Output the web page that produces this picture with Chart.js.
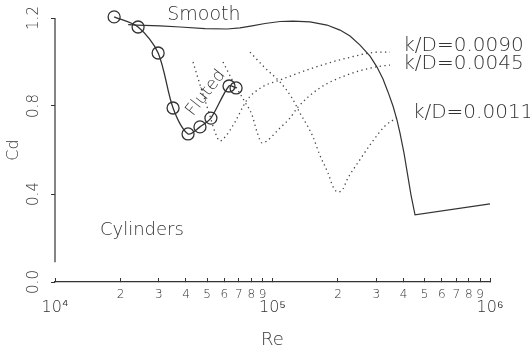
<!DOCTYPE html>
<html>
<head>
<meta charset="utf-8">
<script src="https://cdn.jsdelivr.net/npm/chart.js@4.4.1/dist/chart.umd.min.js"></script>
<style>
  html, body { margin: 0; padding: 0; background: #fff; }
  #cdChart { display: block; }
</style>
</head>
<body>
<canvas id="cdChart" width="530" height="351"></canvas>
<script>
// Cd against Re for smooth, fluted and rough cylinders
const smoothRe = [2.17e4, 2.38e4, 3.04e4, 3.76e4, 4.89e4, 6.18e4, 7.09e4, 8.05e4, 9.24e4, 1.083e5, 1.243e5, 1.488e5, 1.781e5, 2.044e5, 2.272e5, 2.526e5, 2.808e5, 3.023e5, 3.221e5, 3.396e5, 3.581e5, 3.736e5, 3.857e5, 4.024e5, 4.198e5, 4.334e5, 4.521e5, 1.0e6]
const smoothCd = [1.170, 1.168, 1.164, 1.159, 1.152, 1.150, 1.155, 1.164, 1.175, 1.184, 1.186, 1.182, 1.168, 1.145, 1.118, 1.077, 1.027, 0.977, 0.923, 0.864, 0.800, 0.736, 0.677, 0.586, 0.477, 0.395, 0.305, 0.355]

const flutedRe = [1.87e4, 2.41e4, 2.98e4, 3.49e4, 4.09e4, 4.64e4, 5.21e4, 6.31e4, 6.80e4]
const flutedCd = [1.205, 1.159, 1.041, 0.791, 0.673, 0.705, 0.745, 0.891, 0.882]

const rough0090Re = [4.31e4, 4.69e4, 5.11e4, 5.44e4, 5.73e4, 6.11e4, 6.72e4, 7.63e4, 8.95e4, 1.082e5, 1.536e5, 2.20e5, 3.12e5, 3.47e5]
const rough0090Cd = [1.000, 0.882, 0.768, 0.682, 0.641, 0.664, 0.727, 0.827, 0.886, 0.918, 0.973, 1.018, 1.045, 1.045]

const rough0045Re = [5.92e4, 6.72e4, 7.47e4, 8.05e4, 8.49e4, 8.95e4, 9.53e4, 1.082e5, 1.203e5, 1.31e5, 1.65e5, 2.20e5, 2.96e5, 3.47e5]
const rough0045Cd = [1.000, 0.895, 0.818, 0.759, 0.682, 0.632, 0.645, 0.700, 0.745, 0.795, 0.882, 0.941, 0.977, 0.986]

const rough0011Re = [7.88e4, 9.24e4, 1.082e5, 1.23e5, 1.337e5, 1.44e5, 1.536e5, 1.65e5, 1.80e5, 1.90e5, 2.0e5, 2.11e5, 2.20e5, 2.52e5, 2.87e5, 3.29e5, 3.78e5]
const rough0011Cd = [1.045, 0.973, 0.909, 0.836, 0.768, 0.714, 0.659, 0.577, 0.495, 0.432, 0.409, 0.423, 0.464, 0.555, 0.636, 0.709, 0.750]

const yTickValues = [0, 0.4, 0.8, 1.2]
const xTickValues = [1e4, 2e4, 3e4, 4e4, 5e4, 6e4, 7e4, 8e4, 9e4, 1e5, 2e5, 3e5, 4e5, 5e5, 6e5, 7e5, 8e5, 9e5, 1e6]
const minorDigits = ['2', '3', '4', '5', '6', '7', '8', '9']
const decadeLabels = { 4: '10⁴', 5: '10⁵', 6: '10⁶' }

const ink = '#333'
const textInk = '#333'
const face = '"DejaVu Sans", "Liberation Sans", sans-serif'

function pts(xs, ys) {
    return xs.map((x, i) => ({ x: x, y: ys[i] }))
}

const notes = [
    { text: 'Smooth', re: 4.84e4, cd: 1.214, size: 19, angle: 0, align: 'center' },
    { text: 'Fluted', re: 4.94e4, cd: 0.859, size: 17, angle: -52, align: 'center' },
    { text: 'Cylinders', re: 1.61e4, cd: 0.236, size: 18, angle: 0, align: 'left' },
    { text: 'k/D=0.0090', re: 3.99e5, cd: 1.073, size: 20, angle: 0, align: 'left' },
    { text: 'k/D=0.0045', re: 3.99e5, cd: 0.991, size: 20, angle: 0, align: 'left' },
    { text: 'k/D=0.0011', re: 4.42e5, cd: 0.768, size: 20, angle: 0, align: 'left' },
]

const notesPlugin = {
    id: 'notes',
    afterDatasetsDraw(chart) {
        const ctx = chart.ctx
        const xs = chart.scales.x
        const ys = chart.scales.y
        ctx.save()
        // y axis line, stopping short of the Re axis
        ctx.strokeStyle = ink
        ctx.lineWidth = 1.2
        ctx.beginPath()
        ctx.moveTo(chart.chartArea.left, ys.getPixelForValue(1.2))
        ctx.lineTo(chart.chartArea.left, ys.getPixelForValue(0.09))
        ctx.stroke()

        ctx.fillStyle = textInk
        ctx.textBaseline = 'middle'
        notes.forEach(n => {
            ctx.save()
            ctx.translate(xs.getPixelForValue(n.re), ys.getPixelForValue(n.cd))
            ctx.rotate(n.angle * Math.PI / 180)
            ctx.font = '200 ' + n.size + 'px ' + face
            ctx.textAlign = n.align
            ctx.fillText(n.text, 0, 0)
            ctx.restore()
        })
        ctx.restore()
    }
}

function mantissa(v) {
    const e = Math.floor(Math.log10(v) + 1e-9)
    return { m: Math.round(v / Math.pow(10, e)), e: e }
}

function fixedXTicks(s) {
    s.ticks = xTickValues.map(v => ({ value: v }))
}

const dotted = {
    borderColor: '#444',
    borderWidth: 1.3,
    borderDash: [1.3, 3.4],
    pointRadius: 0,
    cubicInterpolationMode: 'monotone',
    clip: false,
}

new Chart(document.getElementById('cdChart'), {
    type: 'line',
    data: {
        datasets: [
            {
                label: 'Smooth',
                data: pts(smoothRe, smoothCd),
                borderColor: ink,
                borderWidth: 1.2,
                pointRadius: 0,
                tension: 0,
                clip: false,
            },
            {
                label: 'Fluted',
                data: pts(flutedRe, flutedCd),
                borderColor: ink,
                borderWidth: 1.3,
                tension: 0.3,
                pointRadius: 6,
                pointBorderWidth: 1.3,
                pointBorderColor: ink,
                pointBackgroundColor: 'rgba(0,0,0,0)',
                clip: false,
            },
            Object.assign({ label: 'k/D=0.0090', data: pts(rough0090Re, rough0090Cd) }, dotted),
            Object.assign({ label: 'k/D=0.0045', data: pts(rough0045Re, rough0045Cd) }, dotted),
            Object.assign({ label: 'k/D=0.0011', data: pts(rough0011Re, rough0011Cd) }, dotted),
        ]
    },
    options: {
        responsive: false,
        animation: false,
        devicePixelRatio: 1,
        layout: { padding: { top: 18, right: 40, bottom: 0, left: 0 } },
        plugins: {
            legend: { display: false },
            tooltip: { enabled: false },
        },
        scales: {
            x: {
                type: 'logarithmic',
                position: 'bottom',
                min: 1e4,
                max: 1e6,
                weight: 0,
                afterBuildTicks: fixedXTicks,
                afterFit(s) { s.height = 16 },
                grid: { drawOnChartArea: false, tickLength: -4, color: ink },
                border: { color: ink, width: 1.2 },
                ticks: {
                    autoSkip: false,
                    minRotation: 0,
                    maxRotation: 0,
                    padding: 10,
                    color: textInk,
                    font: { family: face, size: 12, weight: 200 },
                    callback(v) {
                        const t = mantissa(v)
                        return t.m === 1 ? '' : minorDigits[t.m - 2]
                    }
                }
            },
            x2: {
                type: 'logarithmic',
                position: 'bottom',
                axis: 'x',
                min: 1e4,
                max: 1e6,
                weight: 1,
                afterBuildTicks: fixedXTicks,
                afterFit(s) { s.height = 53 },
                grid: { display: false, drawTicks: false },
                border: { display: false },
                ticks: {
                    autoSkip: false,
                    minRotation: 0,
                    maxRotation: 0,
                    padding: 0,
                    color: textInk,
                    font: { family: face, size: 16, weight: 200 },
                    callback(v) {
                        const t = mantissa(v)
                        return t.m === 1 ? decadeLabels[t.e] : ''
                    }
                },
                title: {
                    display: true,
                    text: 'Re',
                    color: textInk,
                    font: { family: face, size: 18, weight: 200 },
                    padding: { top: 0, bottom: 0 }
                }
            },
            y: {
                min: 0,
                max: 1.2,
                afterFit(s) { s.width = 55 },
                afterBuildTicks(s) { s.ticks = yTickValues.map(v => ({ value: v })) },
                grid: { drawOnChartArea: false, tickLength: 4, color: ink },
                border: { display: false },
                ticks: {
                    minRotation: 90,
                    maxRotation: 90,
                    crossAlign: 'center',
                    padding: 5,
                    color: textInk,
                    font: { family: face, size: 15, weight: 200 },
                    callback(v) { return v.toFixed(1) }
                },
                title: {
                    display: true,
                    text: 'Cd',
                    color: textInk,
                    font: { family: face, size: 16, weight: 200 },
                    padding: { top: 4, bottom: 0 }
                }
            }
        }
    },
    plugins: [notesPlugin]
});
</script>
</body>
</html>
